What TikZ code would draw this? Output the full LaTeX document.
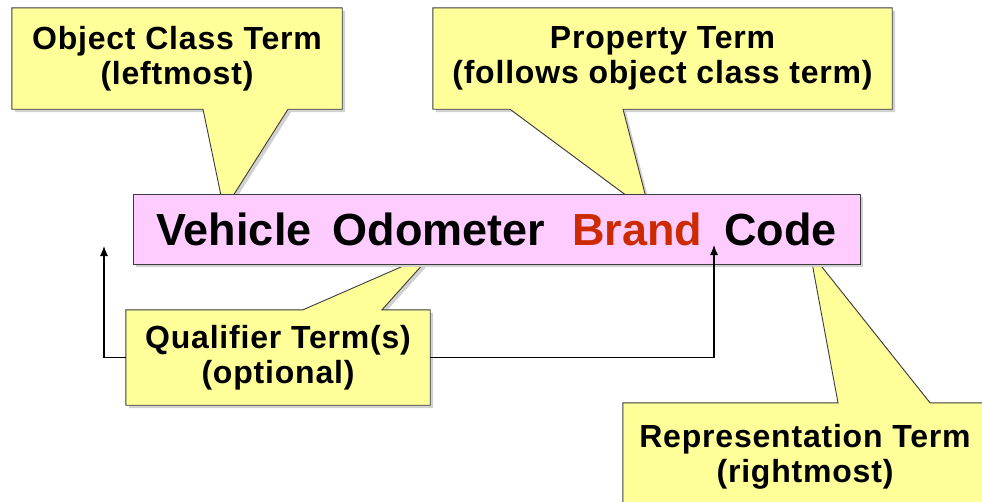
\documentclass[tikz,border=0pt]{standalone}
\usepackage{fontspec}
\setmainfont{Liberation Sans}
\newfontfamily\calloutfont[LetterSpace=2.5]{Liberation Sans}
\usetikzlibrary{arrows.meta,shadows}
\pgfdeclarelayer{background}
\pgfsetlayers{background,main}

\definecolor{calloutfill}{HTML}{FFFF99}
\definecolor{termfill}{HTML}{FFCCFF}
\definecolor{brandred}{HTML}{CC2A00}
\definecolor{edgegray}{HTML}{3C3C3C}

% callout outline with its pointer on the lower side: node, base left x, base right x, tip
\newcommand\calloutdown[4]{%
  \begin{pgfonlayer}{background}
    \filldraw[calloutshape] (#1.north west) -- (#1.north east) -- (#1.south east)
      -- (#3,0 |- #1.south) -- (#4) -- (#2,0 |- #1.south) -- (#1.south west) -- cycle;
  \end{pgfonlayer}}
% callout outline with its pointer on the upper side: node, base left x, base right x, tip
\newcommand\calloutup[4]{%
  \begin{pgfonlayer}{background}
    \filldraw[calloutshape] (#1.north west) -- (#2,0 |- #1.north) -- (#4)
      -- (#3,0 |- #1.north) -- (#1.north east) -- (#1.south east)
      -- (#1.south west) -- cycle;
  \end{pgfonlayer}}

\begin{document}
\begin{tikzpicture}[x=1pt,y=-1pt,
  softshadow/.style={drop shadow={shadow xshift=3pt,shadow yshift=-3pt,opacity=1,fill=black!18}},
  calloutshape/.style={fill=calloutfill,draw=edgegray,line width=0.9pt,line join=miter,softshadow},
  callouttext/.style={inner sep=0pt,align=center,
    font=\calloutfont\bfseries\fontsize{32}{35}\selectfont},
  termbox/.style={draw=edgegray,line width=0.9pt,fill=termfill,inner sep=0pt,softshadow,
    font=\bfseries\fontsize{45}{50}\selectfont},
  conn/.style={draw=black,line width=1.1pt,-{Latex[length=10pt,width=8pt]}}]

\useasboundingbox (0,0) rectangle (982,501);
\clip (0,0) rectangle (982,501);

% the data element name
\node[termbox,minimum width=727pt,minimum height=70pt] (main) at (496.5,229)
  {Vehicle\hspace{21pt}Odometer\hspace{27pt}\textcolor{brandred}{Brand}\hspace{22pt}Code};

% callout boxes
\node[callouttext,minimum width=330pt,minimum height=101pt] (obj) at (177,58.5)
  {Object Class Term\\(leftmost)};
\node[callouttext,minimum width=459pt,minimum height=101pt] (prop) at (662.5,58.5)
  {Property Term\\(follows object class term)};
\node[callouttext,minimum width=304pt,minimum height=95pt] (qual) at (278,357.5)
  {Qualifier Term(s)\\(optional)};
\node[callouttext,minimum width=364pt,minimum height=107pt] (rep) at (805,456.5)
  {Representation Term\\(rightmost)};

% pointer tips
\coordinate (objtip) at (224,210);
\coordinate (proptip) at (650,213);
\coordinate (qualtip) at (433,253);
\coordinate (reptip) at (810,252);

\calloutdown{obj}{203}{288}{objtip}
\calloutdown{prop}{510}{623}{proptip}
\calloutup{qual}{303}{382}{qualtip}
\calloutup{rep}{838}{930}{reptip}

% positions where qualifier terms may be inserted
\coordinate (lefttip) at (104,246);
\coordinate (righttip) at (714,245);
\draw[conn] (qual.west) -| (lefttip);
\draw[conn] (qual.east) -| (righttip);
\end{tikzpicture}
\end{document}
